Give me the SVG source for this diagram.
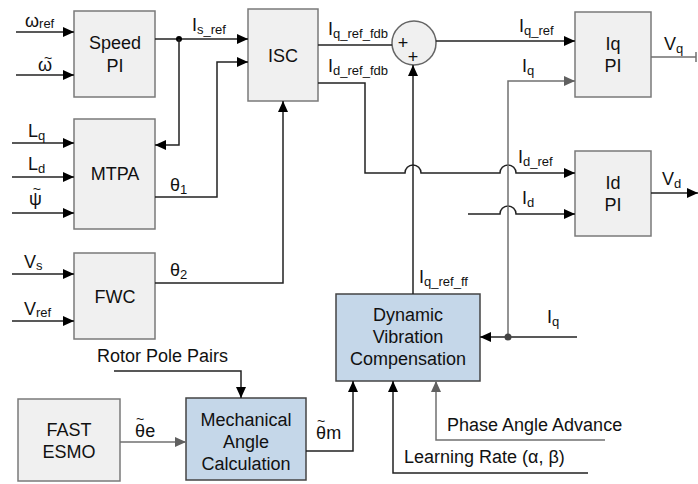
<svg xmlns="http://www.w3.org/2000/svg" width="698" height="484" viewBox="0 0 698 484">
<defs>
<style>
text{font-family:"Liberation Sans",Arial,sans-serif;font-size:18px;fill:#111}
.c{text-anchor:middle}
.s{font-size:13px}
.t{font-size:14px}
.box{fill:#f0f0f0;stroke:#7a7a7a;stroke-width:1.5}
.blue{fill:#c5d7e9;stroke:#444;stroke-width:1.5}
.ln{fill:none;stroke:#222;stroke-width:1.5}
.gl{fill:none;stroke:#707070;stroke-width:1.5}
</style>
<marker id="a" markerUnits="userSpaceOnUse" markerWidth="11" markerHeight="10" refX="11" refY="5" orient="auto"><path d="M0,0L11,5L0,10z" fill="#000"/></marker>
<marker id="g" markerUnits="userSpaceOnUse" markerWidth="11" markerHeight="10" refX="11" refY="5" orient="auto"><path d="M0,0L11,5L0,10z" fill="#606060"/></marker>
</defs>

<g id="speed-pi"><rect class="box" x="74" y="11" width="81" height="86"/><text class="c" x="115" y="49">Speed</text><text class="c" x="115" y="72">PI</text></g>
<g id="mtpa"><rect class="box" x="74" y="119" width="81" height="110"/><text class="c" x="115" y="180">MTPA</text></g>
<g id="fwc"><rect class="box" x="74" y="253" width="81" height="86"/><text class="c" x="115" y="303">FWC</text></g>
<g id="isc"><rect class="box" x="248" y="9" width="70" height="92"/><text class="c" x="283" y="62">ISC</text></g>
<g id="sum"><circle cx="414" cy="43" r="22" fill="#f0f0f0" stroke="#666" stroke-width="1.5"/><text class="c" x="403" y="49">+</text><text class="c" x="413" y="63">+</text></g>
<g id="iq-pi"><rect class="box" x="575" y="12" width="76" height="85"/><text class="c" x="613" y="50">Iq</text><text class="c" x="613" y="72">PI</text></g>
<g id="id-pi"><rect class="box" x="575" y="151" width="76" height="85"/><text class="c" x="613" y="189">Id</text><text class="c" x="613" y="211">PI</text></g>
<g id="dvc"><rect class="blue" x="336" y="294" width="144" height="87"/><text class="c" x="408" y="321">Dynamic</text><text class="c" x="408" y="343">Vibration</text><text class="c" x="408" y="365">Compensation</text></g>
<g id="fast-esmo"><rect class="box" x="18" y="399" width="102" height="82"/><text class="c" x="69" y="436">FAST</text><text class="c" x="69" y="458">ESMO</text></g>
<g id="mech"><rect class="blue" x="186" y="398" width="120" height="82"/><text class="c" x="246" y="426">Mechanical</text><text class="c" x="246" y="448">Angle</text><text class="c" x="246" y="470">Calculation</text></g>

<g id="connectors">
<path class="ln" d="M16,32H74" marker-end="url(#a)"/>
<path class="ln" d="M16,75H74" marker-end="url(#a)"/>
<path class="ln" d="M12,143H74" marker-end="url(#a)"/>
<path class="ln" d="M12,177H74" marker-end="url(#a)"/>
<path class="ln" d="M12,213H74" marker-end="url(#a)"/>
<path class="ln" d="M12,274H74" marker-end="url(#a)"/>
<path class="ln" d="M12,321H74" marker-end="url(#a)"/>
<path class="ln" d="M155,39H248" marker-end="url(#a)"/>
<circle cx="179" cy="39" r="3" fill="#000"/>
<path class="ln" d="M179,39V145H155" marker-end="url(#a)"/>
<path class="ln" d="M155,197H217V62H248" marker-end="url(#a)"/>
<path class="ln" d="M155,283H283V101" marker-end="url(#a)"/>
<path class="ln" d="M318,45H392"/>
<path class="ln" d="M436,41H575" marker-end="url(#a)"/>
<path class="ln" d="M318,83H365V173H405A8,8 0 0 1 421,173H500A8,8 0 0 1 516,173H575" marker-end="url(#a)"/>
<path class="ln" d="M468,214H500A8,8 0 0 1 516,214H575" marker-end="url(#a)"/>
<path class="ln" d="M413,294V65" marker-end="url(#a)"/>
<path class="gl" d="M508,337V81H575" marker-end="url(#g)"/>
<path class="ln" d="M577,337H480" marker-end="url(#a)"/>
<circle cx="508" cy="337" r="3.5" fill="#444"/>
<path class="gl" d="M651,57H696M696,52V62"/>
<path class="ln" d="M651,193H698" marker-end="url(#a)"/>
<path class="ln" d="M114,371H241V398" marker-end="url(#a)"/>
<path class="gl" d="M120,442H186" marker-end="url(#g)"/>
<path class="ln" d="M306,451H353V381" marker-end="url(#a)"/>
<path class="ln" d="M588,473H393V381" marker-end="url(#a)"/>
<path class="gl" d="M605,440H436V381" marker-end="url(#g)"/>
</g>

<g id="labels">
<text x="25" y="27">ω<tspan class="s" dy="1">ref</tspan></text>
<text x="38" y="71">ω<tspan class="t" dx="-8" dy="-8">~</tspan></text>
<text x="28" y="137">L<tspan class="s" dy="3">q</tspan></text>
<text x="28" y="170">L<tspan class="s" dy="3">d</tspan></text>
<text x="29" y="205">ψ<tspan class="t" dx="-9" dy="-11">~</tspan></text>
<text x="24" y="268">V<tspan class="s" dy="2">s</tspan></text>
<text x="24" y="315">V<tspan class="s" dy="2">ref</tspan></text>
<text x="170" y="191">θ<tspan class="s" dy="3">1</tspan></text>
<text x="170" y="276">θ<tspan class="s" dy="3">2</tspan></text>
<text x="192" y="31">I<tspan class="s" dy="3">s_ref</tspan></text>
<text x="328" y="35">I<tspan class="s" dy="3">q_ref_fdb</tspan></text>
<text x="328" y="72">I<tspan class="s" dy="3">d_ref_fdb</tspan></text>
<text x="519" y="32">I<tspan class="s" dy="3">q_ref</tspan></text>
<text x="522" y="72">I<tspan class="s" dy="3">q</tspan></text>
<text x="664" y="50">V<tspan class="s" dy="3">q</tspan></text>
<text x="518" y="163">I<tspan class="s" dy="3">d_ref</tspan></text>
<text x="522" y="204">I<tspan class="s" dy="3">d</tspan></text>
<text x="662" y="185">V<tspan class="s" dy="3">d</tspan></text>
<text x="419" y="283">I<tspan class="s" dy="3">q_ref_ff</tspan></text>
<text x="547" y="323">I<tspan class="s" dy="3">q</tspan></text>
<text x="97" y="362">Rotor Pole Pairs</text>
<text x="135" y="437">θ<tspan class="t" dx="-9" dy="-13">~</tspan><tspan dx="1" dy="13">e</tspan></text>
<text x="316" y="439">θ<tspan class="t" dx="-9" dy="-13">~</tspan><tspan dx="1" dy="13">m</tspan></text>
<text x="447" y="431">Phase Angle Advance</text>
<text x="404" y="463">Learning Rate (α, β)</text>
</g>
</svg>
